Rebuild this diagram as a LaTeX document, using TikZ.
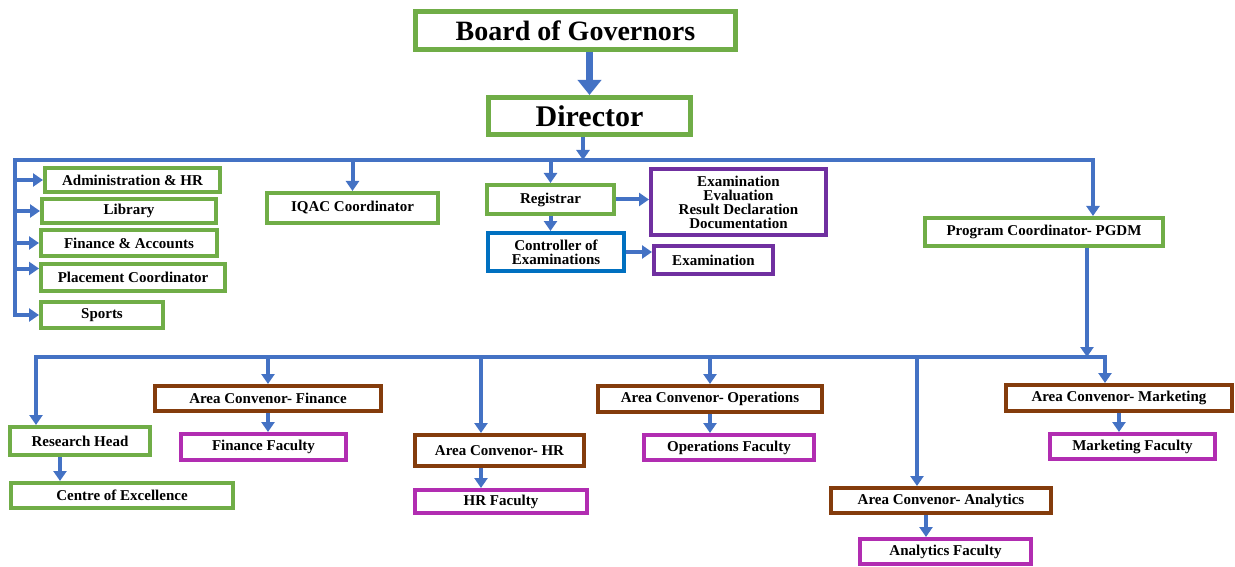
\documentclass[tikz,border=0pt]{standalone}
\usepackage{fontspec}
\setmainfont{Liberation Serif}
\usetikzlibrary{arrows.meta}
\definecolor{boxgreen}{RGB}{112,173,71}
\definecolor{boxbrown}{RGB}{132,60,12}
\definecolor{boxpurple}{RGB}{112,48,160}
\definecolor{boxpink}{RGB}{177,45,177}
\definecolor{boxblue}{RGB}{0,112,192}
\definecolor{linkblue}{RGB}{68,114,196}

\begin{document}
\begin{tikzpicture}[x=1pt, y=-1pt,
    box/.style = {draw, line width=4pt, fill=white, inner sep=0pt,
                  align=center, font=\bfseries\fontsize{15}{14}\selectfont},
    gbox/.style = {box, draw=boxgreen},
    bbox/.style = {box, draw=boxbrown},
    pbox/.style = {box, draw=boxpurple},
    fbox/.style = {box, draw=boxpink},
    bigbox/.style = {box, draw=boxgreen, line width=5pt,
                     font=\bfseries\fontsize{28}{30}\selectfont}]
		\tikzset{arr/.style = {draw=linkblue, line width=4pt,
		                       -{Triangle[width=13pt,length=10pt]}},
		         biarr/.style = {draw=linkblue, line width=4pt,
		                         {Triangle[width=13pt,length=10pt]}-{Triangle[width=13pt,length=10pt]}},
		         bigarr/.style = {draw=linkblue, line width=7pt,
		                          -{Triangle[width=23pt,length=15pt]}}}
		\useasboundingbox (0,0) rectangle (1235,567);
		% top
		\node[bigbox, minimum width=320pt, minimum height=38pt] (bog) at (575.5,30.5) {Board of Governors};
		\node[bigbox, minimum width=202pt, minimum height=37pt,
		      font=\bfseries\fontsize{30}{32}\selectfont] (dir) at (589.5,116) {Director};
		% left column
		\node[gbox, minimum width=175pt, minimum height=24pt] (adm) at (132.5,180) {Administration \& HR};
		\node[gbox, minimum width=174pt, minimum height=24pt] (lib) at (129,211) {Library};
		\node[gbox, minimum width=176pt, minimum height=26pt] (fin) at (129,243) {Finance \& Accounts};
		\node[gbox, minimum width=184pt, minimum height=27pt] (plc) at (133,277.5) {Placement Coordinator};
		\node[gbox, minimum width=122pt, minimum height=26pt] (spt) at (102,315) {Sports};
		% middle
		\node[gbox, minimum width=171pt, minimum height=30pt] (iqac) at (352.5,208) {IQAC Coordinator};
		\node[gbox, minimum width=127pt, minimum height=29pt] (reg) at (550.5,199.5) {Registrar};
		\node[pbox, minimum width=175pt, minimum height=66pt] (tasks) at (738.5,202)
		     {Examination\\Evaluation\\Result Declaration\\Documentation};
		\node[box, draw=boxblue, minimum width=136pt, minimum height=38pt] (coe) at (556,252)
		     {Controller of\\Examinations};
		\node[pbox, minimum width=119pt, minimum height=28pt] (exam) at (713.5,260) {Examination};
		\node[gbox, minimum width=238pt, minimum height=28pt] (pgdm) at (1044,232) {Program Coordinator- PGDM};
		% bottom row
		\node[gbox, minimum width=140pt, minimum height=28pt] (rh) at (80,441) {Research Head};
		\node[gbox, minimum width=222pt, minimum height=25pt] (cex) at (122,495.5) {Centre of Excellence};
		\node[bbox, minimum width=226pt, minimum height=25pt] (acf) at (268,398.5) {Area Convenor- Finance};
		\node[fbox, minimum width=165pt, minimum height=26pt] (finf) at (263.5,447) {Finance Faculty};
		\node[bbox, minimum width=169pt, minimum height=31pt] (achr) at (499.5,450.5) {Area Convenor- HR};
		\node[fbox, minimum width=172pt, minimum height=23pt] (hrf) at (501,501.5) {HR Faculty};
		\node[bbox, minimum width=224pt, minimum height=26pt] (aco) at (710,399) {Area Convenor- Operations};
		\node[fbox, minimum width=170pt, minimum height=25pt] (opf) at (729,447.5) {Operations Faculty};
		\node[bbox, minimum width=220pt, minimum height=25pt] (aca) at (941,500.5) {Area Convenor- Analytics};
		\node[fbox, minimum width=171pt, minimum height=25pt] (anf) at (945.5,551.5) {Analytics Faculty};
		\node[bbox, minimum width=226pt, minimum height=26pt] (acm) at (1119,398) {Area Convenor- Marketing};
		\node[fbox, minimum width=165pt, minimum height=25pt] (mkf) at (1132.5,446.5) {Marketing Faculty};
		% bus points
		\coordinate (lft) at (15,160);
		\coordinate (rgt) at (1093,160);
		\coordinate (dbus) at (583,160);
		\coordinate (b2l) at (36,357);
		\coordinate (b2r) at (1105,357);
		\coordinate (pbus) at (1087,357);
		\coordinate (dhr) at (481,357);
		\coordinate (dan) at (917,357);
		\coordinate (plcin) at ([yshift=9pt]plc.west);
		\coordinate (rhout) at ([xshift=-20pt]rh.south);
		\coordinate (anin) at ([xshift=-15pt]aca.south);
		% links
		\draw[bigarr] (bog.south -| dir) -- (dir.north);
		\draw[arr] (dir.south -| dbus) -- (dbus);
		\draw[biarr] (spt.west) -- (lft |- spt.west) -- (lft) -- (rgt) -- (rgt |- pgdm.north);
		\draw[arr] (lft |- adm.west) -- (adm.west);
		\draw[arr] (lft |- lib.west) -- (lib.west);
		\draw[arr] (lft |- fin.west) -- (fin.west);
		\draw[arr] (lft |- plcin) -- (plcin);
		\draw[arr] (iqac.north |- lft) -- (iqac.north);
		\draw[arr] (reg.north |- lft) -- (reg.north);
		\draw[arr] (reg.east) -- (reg.east -| tasks.west);
		\draw[arr] (reg.south) -- (reg.south |- coe.north);
		\draw[arr] (coe.east) -- (coe.east -| exam.west);
		\draw[arr] (pgdm.south -| pbus) -- (pbus);
		\draw[biarr] (b2l |- rh.north) -- (b2l) -- (b2r) -- (b2r |- acm.north);
		\draw[arr] (rhout) -- (rhout |- cex.north);
		\draw[arr] (acf.north |- b2l) -- (acf.north);
		\draw[arr] (acf.south) -- (acf.south |- finf.north);
		\draw[arr] (dhr) -- (dhr |- achr.north);
		\draw[arr] (dhr |- achr.south) -- (dhr |- hrf.north);
		\draw[arr] (aco.north |- b2l) -- (aco.north);
		\draw[arr] (aco.south) -- (aco.south |- opf.north);
		\draw[arr] (dan) -- (dan |- aca.north);
		\draw[arr] (anin) -- (anin |- anf.north);
		\draw[arr] (acm.south) -- (acm.south |- mkf.north);
\end{tikzpicture}
\end{document}
